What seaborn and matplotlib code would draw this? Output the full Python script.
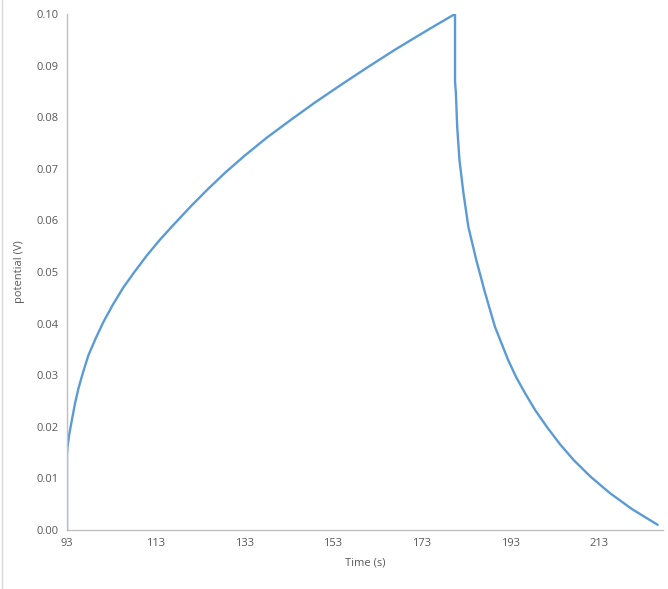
import numpy as np
import pandas as pd
import seaborn as sns
import matplotlib.pyplot as plt
from matplotlib.lines import Line2D

# Values: charge up to 0.10 V, then decay
charge_time = [93.0, 93.0, 93.1, 93.5, 94.1, 94.8, 95.6, 96.6, 97.8, 99.4,
               101.2, 103.3, 105.7, 108.2, 111.0, 114.0, 117.4, 121.0, 124.7,
               128.6, 133.0, 138.0, 143.5, 149.0, 155.0, 161.0, 167.0, 172.0,
               176.5, 180.5]
charge_v = [0.0, 0.0145, 0.016, 0.0185, 0.0213, 0.0245, 0.0275, 0.0305, 0.0338, 0.037,
            0.0403, 0.0436, 0.047, 0.050, 0.0532, 0.0563, 0.0595, 0.0628, 0.066,
            0.0692, 0.0725, 0.076, 0.0795, 0.0829, 0.0864, 0.0898, 0.0931, 0.0957,
            0.0980, 0.100]
decay_time = [180.5, 180.7, 181.0, 181.5, 182.4, 183.5, 185.3, 187.3, 189.5, 192.5,
              194.3, 196.3, 198.6, 201.2, 204.1, 207.2, 211.1, 215.5, 220.5, 226.2]
decay_v = [0.087, 0.0846, 0.078, 0.0717, 0.0653, 0.0588, 0.0523, 0.0459, 0.0394, 0.0329,
           0.0296, 0.0265, 0.0232, 0.0200, 0.0167, 0.0136, 0.0103, 0.0071, 0.0040, 0.0010]
x_ticks = [93, 113, 133, 153, 173, 193, 213]
y_ticks = [0.00, 0.01, 0.02, 0.03, 0.04, 0.05, 0.06, 0.07, 0.08, 0.09, 0.10]

df = pd.DataFrame({"time": charge_time + decay_time,
                   "potential": charge_v + decay_v})

sns.set_style("white")
plt.rcParams["font.family"] = ["Open Sans", "DejaVu Sans"]

fig = plt.figure(figsize=(6.68, 5.89), dpi=100)
ax = fig.add_axes([0.1003, 0.1002, 0.8922, 0.8760])

sns.lineplot(data=df, x="time", y="potential", sort=False, estimator=None,
             color="#5B9BD5", linewidth=1.7, ax=ax)

ax.set_xlim(93, 227.4)
ax.set_ylim(0, 0.10)
ax.set_xticks(x_ticks)
ax.set_yticks(y_ticks)
ax.set_yticklabels([f"{v:.2f}" for v in y_ticks])
ax.tick_params(axis="both", length=0, labelsize=8, colors="#595959", pad=6)
ax.set_xlabel("Time (s)", fontsize=8, color="#595959", labelpad=6)
ax.set_ylabel("potential (V)", fontsize=8, color="#595959", labelpad=8)

for side in ["top", "right"]:
    ax.spines[side].set_visible(False)
for side in ["left", "bottom"]:
    ax.spines[side].set_color("#BFBFBF")
    ax.spines[side].set_linewidth(1.0)

# thin frame edge visible on the left of the reference image
fig.add_artist(Line2D([0.003, 0.003], [0, 1], transform=fig.transFigure,
                      color="#D9D9D9", linewidth=1.0))

fig.savefig("out.png", dpi=100)
plt.close(fig)
